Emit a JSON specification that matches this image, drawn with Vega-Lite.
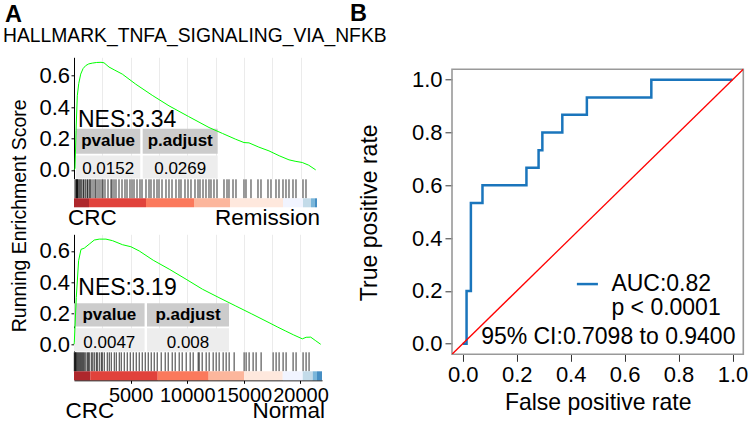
{
  "$schema": "https://vega.github.io/schema/vega-lite/v6.json",
  "padding": {"left": 3, "top": 1.3, "right": 0, "bottom": 0},
  "background": "white",
  "config": {
    "font": "Liberation Sans",
    "view": {"stroke": null},
    "axis": {"labelFont": "Liberation Sans", "titleFont": "Liberation Sans", "labelColor": "black", "titleColor": "black", "titleFontWeight": "normal", "grid": false},
    "title": {"font": "Liberation Sans", "color": "black"}
  },
  "datasets": {
    "es1": [{"rank":0,"es":0},{"rank":88,"es":0.01},{"rank":180,"es":0.25},{"rank":291,"es":0.472},{"rank":420,"es":0.55},{"rank":591,"es":0.61},{"rank":800,"es":0.645},{"rank":1032,"es":0.664},{"rank":1300,"es":0.675},{"rank":1614,"es":0.68},{"rank":2000,"es":0.684},{"rank":2381,"es":0.685},{"rank":2646,"es":0.682},{"rank":3087,"es":0.655},{"rank":3600,"es":0.635},{"rank":4260,"es":0.61},{"rank":5442,"es":0.546},{"rank":6900,"es":0.475},{"rank":8379,"es":0.408},{"rank":10100,"es":0.34},{"rank":11907,"es":0.27},{"rank":13100,"es":0.232},{"rank":14262,"es":0.195},{"rank":14994,"es":0.174},{"rank":15435,"es":0.172},{"rank":16300,"es":0.145},{"rank":17199,"es":0.121},{"rank":18100,"es":0.09},{"rank":18963,"es":0.064},{"rank":19500,"es":0.055},{"rank":20136,"es":0.047},{"rank":20700,"es":0.03},{"rank":21318,"es":0.0}],
    "es2": [{"rank":0,"es":0},{"rank":26,"es":0.01},{"rank":200,"es":0.3},{"rank":406,"es":0.537},{"rank":617,"es":0.61},{"rank":908,"es":0.618},{"rank":1349,"es":0.644},{"rank":1790,"es":0.67},{"rank":2231,"es":0.676},{"rank":2822,"es":0.676},{"rank":3405,"es":0.666},{"rank":4287,"es":0.64},{"rank":5027,"es":0.627},{"rank":5759,"es":0.6},{"rank":7000,"es":0.54},{"rank":8405,"es":0.483},{"rank":9900,"es":0.418},{"rank":11343,"es":0.354},{"rank":12800,"es":0.3},{"rank":14288,"es":0.246},{"rank":15700,"es":0.195},{"rank":17225,"es":0.139},{"rank":18000,"es":0.11},{"rank":18698,"es":0.085},{"rank":19400,"es":0.06},{"rank":20162,"es":0.035},{"rank":20500,"es":0.045},{"rank":20903,"es":0.046},{"rank":21300,"es":0.025},{"rank":21785,"es":0.0}],
    "hits1": [{"rank":88},{"rank":176},{"rank":221},{"rank":265},{"rank":309},{"rank":353},{"rank":441},{"rank":529},{"rank":617},{"rank":706},{"rank":838},{"rank":970},{"rank":1058},{"rank":1191},{"rank":1323},{"rank":1411},{"rank":1499},{"rank":1676},{"rank":1852},{"rank":1940},{"rank":2117},{"rank":2293},{"rank":2470},{"rank":2558},{"rank":2734},{"rank":2999},{"rank":3263},{"rank":3352},{"rank":3528},{"rank":3704},{"rank":3969},{"rank":4234},{"rank":4498},{"rank":4675},{"rank":4939},{"rank":5116},{"rank":5292},{"rank":5557},{"rank":5821},{"rank":5998},{"rank":6350},{"rank":6615},{"rank":6791},{"rank":7056},{"rank":7321},{"rank":7497},{"rank":7762},{"rank":8114},{"rank":8379},{"rank":8644},{"rank":8996},{"rank":9261},{"rank":9437},{"rank":9790},{"rank":10055},{"rank":10319},{"rank":10672},{"rank":10937},{"rank":11113},{"rank":11378},{"rank":11642},{"rank":11907},{"rank":12083},{"rank":12348},{"rank":12613},{"rank":13230},{"rank":13495},{"rank":13671},{"rank":14024},{"rank":14288},{"rank":14994},{"rank":15170},{"rank":15611},{"rank":16229},{"rank":16493},{"rank":17111},{"rank":17375},{"rank":17816},{"rank":18081},{"rank":18434},{"rank":18698},{"rank":18963},{"rank":19316},{"rank":19580},{"rank":20198},{"rank":20462}],
    "hits2": [{"rank":26},{"rank":71},{"rank":115},{"rank":159},{"rank":203},{"rank":291},{"rank":379},{"rank":467},{"rank":556},{"rank":644},{"rank":732},{"rank":820},{"rank":908},{"rank":1041},{"rank":1173},{"rank":1261},{"rank":1349},{"rank":1526},{"rank":1658},{"rank":1790},{"rank":1967},{"rank":2055},{"rank":2231},{"rank":2408},{"rank":2496},{"rank":2672},{"rank":2937},{"rank":3113},{"rank":3290},{"rank":3555},{"rank":3731},{"rank":3996},{"rank":4172},{"rank":4437},{"rank":4702},{"rank":4966},{"rank":5231},{"rank":5495},{"rank":5760},{"rank":6025},{"rank":6289},{"rank":6554},{"rank":6818},{"rank":7083},{"rank":7348},{"rank":7700},{"rank":8053},{"rank":8318},{"rank":8671},{"rank":8935},{"rank":9288},{"rank":9553},{"rank":9906},{"rank":10258},{"rank":10523},{"rank":10964},{"rank":11052},{"rank":11317},{"rank":11670},{"rank":11934},{"rank":12287},{"rank":12552},{"rank":12816},{"rank":13169},{"rank":13434},{"rank":13699},{"rank":14140},{"rank":15022},{"rank":15198},{"rank":15463},{"rank":15816},{"rank":16081},{"rank":16522},{"rank":17580},{"rank":17845},{"rank":18110},{"rank":18463},{"rank":18728},{"rank":19346},{"rank":19610},{"rank":20228},{"rank":20493},{"rank":20757}],
    "bar1": [{"rank":0,"end":1323,"level":"1"},{"rank":1323,"end":6350,"level":"2"},{"rank":6350,"end":10584,"level":"3"},{"rank":10584,"end":13759,"level":"4"},{"rank":13759,"end":18434,"level":"5"},{"rank":18434,"end":20198,"level":"6"},{"rank":20198,"end":20900,"level":"7"},{"rank":20900,"end":21250,"level":"8"},{"rank":21250,"end":21433,"level":"9"}],
    "bar2": [{"rank":0,"end":1438,"level":"1"},{"rank":1438,"end":7391,"level":"2"},{"rank":7391,"end":11889,"level":"3"},{"rank":11889,"end":15020,"level":"4"},{"rank":15020,"end":18434,"level":"5"},{"rank":18434,"end":20198,"level":"6"},{"rank":20198,"end":21080,"level":"7"},{"rank":21080,"end":21459,"level":"8"},{"rank":21459,"end":21900,"level":"9"}],
    "tab1": [{"row":"header","rank":176,"rank2":5848,"es":0.102,"es2":0.262},{"row":"header","rank":6059,"rank2":12674,"es":0.102,"es2":0.262},{"row":"body","rank":176,"rank2":5848,"es":-0.0555,"es2":0.091},{"row":"body","rank":6059,"rank2":12674,"es":-0.0555,"es2":0.091}],
    "tab1text": [{"row":"header","rank":3012,"es":0.182,"text":"pvalue"},{"row":"header","rank":9366,"es":0.182,"text":"p.adjust"},{"row":"body","rank":3012,"es":0.003,"text":"0.0152"},{"row":"body","rank":9366,"es":0.003,"text":"0.0269"},{"row":"nes","rank":353,"es":0.315,"text":"NES:3.34"}],
    "tab2": [{"row":"header","rank":0,"rank2":6234,"es":0.114,"es2":0.263},{"row":"header","rank":6446,"rank2":13687,"es":0.114,"es2":0.263},{"row":"body","rank":0,"rank2":6234,"es":-0.047,"es2":0.103},{"row":"body","rank":6446,"rank2":13687,"es":-0.047,"es2":0.103}],
    "tab2text": [{"row":"header","rank":3117,"es":0.19,"text":"pvalue"},{"row":"header","rank":10066,"es":0.19,"text":"p.adjust"},{"row":"body","rank":3117,"es":0.006,"text":"0.0047"},{"row":"body","rank":10066,"es":0.006,"text":"0.008"},{"row":"nes","rank":380,"es":0.361,"text":"NES:3.19"}],
    "roc": [{"fpr":0,"tpr":0},{"fpr":0.014,"tpr":0.2},{"fpr":0.03,"tpr":0.533},{"fpr":0.073,"tpr":0.6},{"fpr":0.236,"tpr":0.667},{"fpr":0.281,"tpr":0.733},{"fpr":0.295,"tpr":0.8},{"fpr":0.369,"tpr":0.867},{"fpr":0.46,"tpr":0.933},{"fpr":0.699,"tpr":1},{"fpr":1,"tpr":1}],
    "diag": [{"fpr":-0.04,"tpr":-0.04},{"fpr":1.04,"tpr":1.04}],
    "frame": [{"fpr":-0.04,"fpr2":1.04,"tpr":-0.04,"tpr2":1.04}],
    "rocKey": [{"fpr":0.423,"fpr2":0.501,"tpr":0.226}],
    "rocText": [{"fpr":0.551,"tpr":0.225,"text":"AUC:0.82"},{"fpr":0.551,"tpr":0.136,"text":"p < 0.0001"},{"fpr":0.068,"tpr":0.025,"text":"95% CI:0.7098 to 0.9400"}]
  },
  "spacing": -37,
  "hconcat": [
    {
      "title": {"text": "A", "anchor": "start", "frame": "bounds", "fontSize": 23.5, "fontWeight": "bold", "offset": 1, "dx": 2},
      "bounds": "flush",
      "spacing": 0,
      "resolve": {"scale": {"color": "independent"}},
      "vconcat": [
        {
          "width": 243, "height": 121.3,
          "title": {"text": "HALLMARK_TNFA_SIGNALING_VIA_NFKB", "anchor": "start", "frame": "bounds", "fontSize": 19.3, "fontWeight": "normal", "offset": 10.7, "dx": -6},
          "encoding": {
            "x": {"field": "rank", "type": "quantitative", "scale": {"domain": [0, 21433], "nice": false, "zero": false},
                  "axis": {"values": [2500,5000,7500,10000,12500,15000,17500,20000], "grid": true, "gridColor": "#ebebeb", "gridWidth": 1, "labels": false, "ticks": false, "domain": false, "title": null}},
            "y": {"field": "es", "type": "quantitative", "scale": {"domain": [-0.0555, 0.717], "nice": false, "zero": false},
                  "axis": {"values": [0, 0.2, 0.4, 0.6], "format": ".1f", "labelFontSize": 22, "tickSize": 3, "tickColor": "black", "domainColor": "black", "labelPadding": 1.5, "title": "Running Enrichment Score", "titleFontSize": 19.5, "titleX": -45, "titleY": 158, "titleAngle": 270, "titleAlign": "center", "titleBaseline": "bottom"}}
          },
          "layer": [
            {"data": {"name": "tab1"}, "transform": [{"filter": "datum.row == 'header'"}], "mark": {"type": "rect", "fill": "#cccccc"}, "encoding": {"x2": {"field": "rank2"}, "y2": {"field": "es2"}}},
            {"data": {"name": "tab1"}, "transform": [{"filter": "datum.row == 'body'"}], "mark": {"type": "rect", "fill": "#ededed"}, "encoding": {"x2": {"field": "rank2"}, "y2": {"field": "es2"}}},
            {"data": {"name": "es1"}, "mark": {"type": "line", "color": "#00ff00", "strokeWidth": 1}},
            {"data": {"name": "tab1text"}, "transform": [{"filter": "datum.row == 'header'"}], "mark": {"type": "text", "fontSize": 17, "fontWeight": "bold", "baseline": "middle", "align": "center"}, "encoding": {"text": {"field": "text"}}},
            {"data": {"name": "tab1text"}, "transform": [{"filter": "datum.row == 'body'"}], "mark": {"type": "text", "fontSize": 17, "baseline": "middle", "align": "center"}, "encoding": {"text": {"field": "text"}}},
            {"data": {"name": "tab1text"}, "transform": [{"filter": "datum.row == 'nes'"}], "mark": {"type": "text", "fontSize": 23, "baseline": "middle", "align": "left"}, "encoding": {"text": {"field": "text"}}}
          ]
        },
        {
          "width": 243, "height": 19,
          "data": {"name": "hits1"},
          "mark": {"type": "rule", "color": "black", "opacity": 0.8, "strokeWidth": 1},
          "encoding": {"x": {"field": "rank", "type": "quantitative", "scale": {"domain": [0, 21433], "nice": false, "zero": false}, "axis": null}}
        },
        {
          "width": 243, "height": 9,
          "data": {"name": "bar1"},
          "mark": {"type": "rect", "opacity": 0.9},
          "encoding": {
            "x": {"field": "rank", "type": "quantitative", "scale": {"domain": [0, 21433], "nice": false, "zero": false}, "axis": null},
            "x2": {"field": "end"},
            "color": {"field": "level", "type": "nominal", "scale": {"domain": ["1","2","3","4","5","6","7","8","9"], "range": ["#a50f15","#de2d26","#fb6a4a","#fcae91","#fee5d9","#eff3ff","#bdd7e7","#6baed6","#3182bd"]}, "legend": null}
          }
        },
        {
          "width": 243, "height": 26.7,
          "encoding": {"x": {"field": "rank", "type": "quantitative", "scale": {"domain": [0, 21433], "nice": false, "zero": false}, "axis": null}, "text": {"field": "side"}},
          "layer": [
            {"data": {"values": [{"rank": 0, "side": "CRC"}]}, "mark": {"type": "text", "align": "left", "baseline": "middle", "fontSize": 22.5, "dx": -6, "dy": -2.5}},
            {"data": {"values": [{"rank": 21433, "side": "Remission"}]}, "mark": {"type": "text", "align": "right", "baseline": "middle", "fontSize": 22.5, "dx": 3, "dy": -2.5}}
          ]
        },
        {
          "width": 248, "height": 117.3,
          "encoding": {
            "x": {"field": "rank", "type": "quantitative", "scale": {"domain": [0, 21900], "nice": false, "zero": false},
                  "axis": {"values": [2500,5000,7500,10000,12500,15000,17500,20000], "grid": true, "gridColor": "#ebebeb", "gridWidth": 1, "labels": false, "ticks": false, "domain": false, "title": null}},
            "y": {"field": "es", "type": "quantitative", "scale": {"domain": [-0.047, 0.707], "nice": false, "zero": false},
                  "axis": {"values": [0, 0.2, 0.4, 0.6], "format": ".1f", "labelFontSize": 22, "tickSize": 3, "tickColor": "black", "domainColor": "black", "labelPadding": 1.5, "title": null}}
          },
          "layer": [
            {"data": {"name": "tab2"}, "transform": [{"filter": "datum.row == 'header'"}], "mark": {"type": "rect", "fill": "#cccccc"}, "encoding": {"x2": {"field": "rank2"}, "y2": {"field": "es2"}}},
            {"data": {"name": "tab2"}, "transform": [{"filter": "datum.row == 'body'"}], "mark": {"type": "rect", "fill": "#ededed"}, "encoding": {"x2": {"field": "rank2"}, "y2": {"field": "es2"}}},
            {"data": {"name": "es2"}, "mark": {"type": "line", "color": "#00ff00", "strokeWidth": 1}},
            {"data": {"name": "tab2text"}, "transform": [{"filter": "datum.row == 'header'"}], "mark": {"type": "text", "fontSize": 17, "fontWeight": "bold", "baseline": "middle", "align": "center"}, "encoding": {"text": {"field": "text"}}},
            {"data": {"name": "tab2text"}, "transform": [{"filter": "datum.row == 'body'"}], "mark": {"type": "text", "fontSize": 17, "baseline": "middle", "align": "center"}, "encoding": {"text": {"field": "text"}}},
            {"data": {"name": "tab2text"}, "transform": [{"filter": "datum.row == 'nes'"}], "mark": {"type": "text", "fontSize": 23, "baseline": "middle", "align": "left"}, "encoding": {"text": {"field": "text"}}}
          ]
        },
        {
          "width": 248, "height": 19,
          "data": {"name": "hits2"},
          "mark": {"type": "rule", "color": "black", "opacity": 0.8, "strokeWidth": 1},
          "encoding": {"x": {"field": "rank", "type": "quantitative", "scale": {"domain": [0, 21900], "nice": false, "zero": false}, "axis": null}}
        },
        {
          "width": 248, "height": 9,
          "encoding": {
            "x": {"field": "rank", "type": "quantitative", "scale": {"domain": [0, 21900], "nice": false, "zero": false},
                  "axis": {"values": [5000, 10000, 15000, 20000], "format": "d", "labelFontSize": 20, "tickSize": 3, "tickColor": "black", "domainColor": "black", "labelPadding": 2, "title": null, "labelFlush": false, "labelOverlap": false}}
          },
          "layer": [
            {"data": {"name": "bar2"}, "mark": {"type": "rect", "opacity": 0.9},
             "encoding": {"x2": {"field": "end"}, "color": {"field": "level", "type": "nominal", "scale": {"domain": ["1","2","3","4","5","6","7","8","9"], "range": ["#a50f15","#de2d26","#fb6a4a","#fcae91","#fee5d9","#eff3ff","#bdd7e7","#6baed6","#3182bd"]}, "legend": null}}},
            {"data": {"values": [{"rank": 0, "side": "CRC"}]}, "mark": {"type": "text", "align": "left", "baseline": "middle", "fontSize": 22.5, "dx": -8.5, "dy": 35}, "encoding": {"text": {"field": "side"}}},
            {"data": {"values": [{"rank": 21900, "side": "Normal"}]}, "mark": {"type": "text", "align": "right", "baseline": "middle", "fontSize": 22.5, "dx": 3, "dy": 35}, "encoding": {"text": {"field": "side"}}}
          ]
        }
      ]
    },
    {
      "width": 291.3, "height": 297,
      "title": {"text": "B", "anchor": "start", "frame": "group", "fontSize": 23.5, "fontWeight": "bold", "dx": -102, "offset": 32.2},
      "encoding": {
        "x": {"field": "fpr", "type": "quantitative", "scale": {"domain": [-0.04, 1.04], "nice": false, "zero": false},
              "axis": {"values": [0, 0.2, 0.4, 0.6, 0.8, 1], "format": ".1f", "tickSize": 7, "tickColor": "#333333", "domain": false, "labelFontSize": 22, "labelPadding": 3, "labelFlush": false, "labelOverlap": false, "title": "False positive rate", "titleFontSize": 23, "titlePadding": 6}},
        "y": {"field": "tpr", "type": "quantitative", "scale": {"domain": [-0.04, 1.085], "nice": false, "zero": false},
              "axis": {"values": [0, 0.2, 0.4, 0.6, 0.8, 1], "format": ".1f", "tickSize": 7, "tickColor": "#333333", "domain": false, "labelFontSize": 22, "labelPadding": 3, "labelFlush": false, "labelOverlap": false, "title": "True positive rate", "titleFontSize": 23, "titleX": -70, "titleY": 155, "titleAngle": 270, "titleAlign": "center", "titleBaseline": "bottom"}}
      },
      "layer": [
        {"data": {"name": "frame"}, "mark": {"type": "rect", "filled": false, "color": "#999999", "strokeWidth": 1.6}, "encoding": {"x2": {"field": "fpr2"}, "y2": {"field": "tpr2"}}},
        {"data": {"name": "roc"}, "mark": {"type": "line", "color": "#1a75bc", "strokeWidth": 2.5, "interpolate": "step-after"}},
        {"data": {"name": "rocKey"}, "mark": {"type": "rule", "color": "#1a75bc", "strokeWidth": 2.5}, "encoding": {"x2": {"field": "fpr2"}}},
        {"data": {"name": "rocText"}, "mark": {"type": "text", "align": "left", "baseline": "middle", "fontSize": 23}, "encoding": {"text": {"field": "text"}}},
        {"data": {"name": "diag"}, "mark": {"type": "line", "color": "#ff0000", "strokeWidth": 1.3, "clip": true}}
      ]
    }
  ]
}
